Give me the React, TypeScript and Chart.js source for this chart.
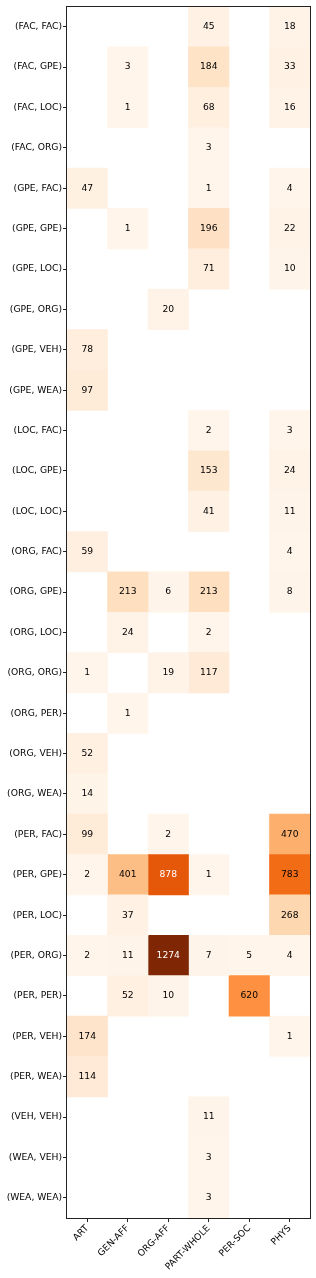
import React, { useEffect, useRef } from "react";
import { Chart, registerables } from "chart.js";

Chart.register(...registerables);

const rowLabels = [
  "(FAC, FAC)", "(FAC, GPE)", "(FAC, LOC)", "(FAC, ORG)",
  "(GPE, FAC)", "(GPE, GPE)", "(GPE, LOC)", "(GPE, ORG)", "(GPE, VEH)", "(GPE, WEA)",
  "(LOC, FAC)", "(LOC, GPE)", "(LOC, LOC)",
  "(ORG, FAC)", "(ORG, GPE)", "(ORG, LOC)", "(ORG, ORG)", "(ORG, PER)", "(ORG, VEH)", "(ORG, WEA)",
  "(PER, FAC)", "(PER, GPE)", "(PER, LOC)", "(PER, ORG)", "(PER, PER)", "(PER, VEH)", "(PER, WEA)",
  "(VEH, VEH)", "(WEA, VEH)", "(WEA, WEA)",
];

const colLabels = ["ART", "GEN-AFF", "ORG-AFF", "PART-WHOLE", "PER-SOC", "PHYS"];

const _ = null;
const artValues = [_, _, _, _, 47, _, _, _, 78, 97, _, _, _, 59, _, _, 1, _, 52, 14, 99, 2, _, 2, _, 174, 114, _, _, _];
const genAffValues = [_, 3, 1, _, _, 1, _, _, _, _, _, _, _, _, 213, 24, _, 1, _, _, _, 401, 37, 11, 52, _, _, _, _, _];
const orgAffValues = [_, _, _, _, _, _, _, 20, _, _, _, _, _, _, 6, _, 19, _, _, _, 2, 878, _, 1274, 10, _, _, _, _, _];
const partWholeValues = [45, 184, 68, 3, 1, 196, 71, _, _, _, 2, 153, 41, _, 213, 2, 117, _, _, _, _, 1, _, 7, _, _, _, 11, 3, 3];
const perSocValues = [_, _, _, _, _, _, _, _, _, _, _, _, _, _, _, _, _, _, _, _, _, _, _, 5, 620, _, _, _, _, _];
const physValues = [18, 33, 16, _, 4, 22, 10, _, _, _, 3, 24, 11, 4, 8, _, _, _, _, _, 470, 783, 268, 4, _, 1, _, _, _, _];

const columns = [artValues, genAffValues, orgAffValues, partWholeValues, perSocValues, physValues];

const ORANGES = [
  "#fff5eb", "#fee6ce", "#fdd0a2", "#fdae6b", "#fd8d3c",
  "#f16913", "#d94801", "#a63603", "#7f2704",
];

function hexToRgb(h: string) {
  const n = parseInt(h.slice(1), 16);
  return [(n >> 16) & 255, (n >> 8) & 255, n & 255];
}

function cmap(t: number) {
  const x = Math.max(0, Math.min(1, t)) * (ORANGES.length - 1);
  const i = Math.min(Math.floor(x), ORANGES.length - 2);
  const f = x - i;
  const a = hexToRgb(ORANGES[i]);
  const b = hexToRgb(ORANGES[i + 1]);
  const c = a.map((v, k) => Math.round(v + (b[k] - v) * f));
  return `rgb(${c[0]},${c[1]},${c[2]})`;
}

const FONT = { family: "'DejaVu Sans', sans-serif", size: 9.2 };

export default function App() {
  const ref = useRef<HTMLCanvasElement | null>(null);

  useEffect(() => {
    if (!ref.current) return;
    const allVals = columns.flat().filter((v) => v !== null) as number[];
    const vmax = Math.max(...allVals);
    const vmin = 0;

    const datasets = columns.map((col, c) => ({
      label: colLabels[c],
      data: col.map((v) => (v === null ? null : [c, c + 1])),
      backgroundColor: col.map((v) => (v === null ? "rgba(0,0,0,0)" : cmap((v - vmin) / (vmax - vmin)))),
      borderWidth: 0,
      barPercentage: 1,
      categoryPercentage: 1,
      grouped: false,
    }));

    const textPlugin = {
      id: "cellText",
      afterDatasetsDraw(chart: any) {
        const ctx = chart.ctx;
        ctx.save();
        ctx.font = `${FONT.size}px ${FONT.family}`;
        ctx.textAlign = "center";
        ctx.textBaseline = "middle";
        chart.data.datasets.forEach((ds: any, c: number) => {
          const meta = chart.getDatasetMeta(c);
          meta.data.forEach((el: any, r: number) => {
            const v = columns[c][r];
            if (v === null) return;
            const p = el.getCenterPoint();
            ctx.fillStyle = v > vmax / 1.5 ? "#ffffff" : "#000000";
            ctx.fillText(String(v), p.x, p.y);
          });
        });
        ctx.restore();
      },
    };

    const framePlugin = {
      id: "frame",
      afterDraw(chart: any) {
        const { ctx, chartArea } = chart;
        ctx.save();
        ctx.strokeStyle = "#222";
        ctx.lineWidth = 1;
        ctx.strokeRect(
          Math.round(chartArea.left) - 0.5,
          Math.round(chartArea.top) - 0.5,
          Math.round(chartArea.right - chartArea.left) + 1,
          Math.round(chartArea.bottom - chartArea.top) + 1
        );
        ctx.restore();
      },
    };

    const chart = new Chart(ref.current, {
      type: "bar",
      data: { labels: rowLabels, datasets: datasets as any },
      options: {
        indexAxis: "y",
        animation: false,
        responsive: true,
        maintainAspectRatio: false,
        layout: { padding: { top: 5, right: 6, left: 0, bottom: 0 } },
        plugins: { legend: { display: false }, tooltip: { enabled: false } },
        scales: {
          y: {
            type: "category",
            offset: true,
            grid: { drawOnChartArea: false, drawTicks: true, tickLength: 4, color: "#222", offset: false },
            border: { display: false },
            ticks: { color: "#000", font: FONT, padding: 1, autoSkip: false },
            afterFit(scale: any) {
              scale.width = 67;
            },
          },
          x: {
            type: "linear",
            min: 0,
            max: colLabels.length,
            grid: { drawOnChartArea: false, drawTicks: true, tickLength: 4, color: "#222" },
            border: { display: false },
            afterBuildTicks(scale: any) {
              scale.ticks = colLabels.map((_l, i) => ({ value: i + 0.5 }));
            },
            ticks: {
              color: "#000",
              font: FONT,
              padding: 1,
              autoSkip: false,
              minRotation: 45,
              maxRotation: 45,
              callback: (v: any) => colLabels[Math.round(Number(v) - 0.5)] ?? "",
            },
            afterFit(scale: any) {
              scale.height = 60;
            },
          },
        },
      },
      plugins: [textPlugin, framePlugin],
    });

    return () => chart.destroy();
  }, []);

  return (
    <div style={{ position: "absolute", left: 0, top: 0, width: 316, height: 1278, background: "#fff" }}>
      <canvas ref={ref} />
    </div>
  );
}
